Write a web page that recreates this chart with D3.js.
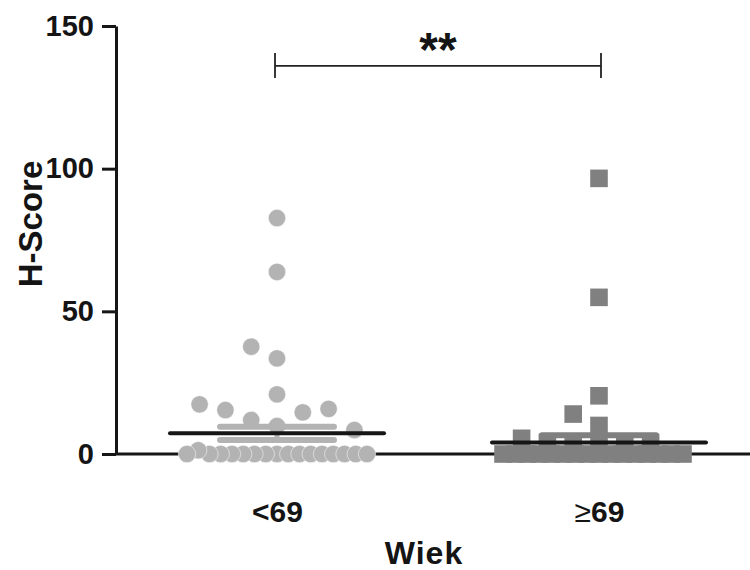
<!DOCTYPE html>
<html><head><meta charset="utf-8">
<script src="https://cdn.jsdelivr.net/npm/d3@7"></script>
<style>
body{margin:0;background:#fff}
svg{display:block}
text{font-family:"Liberation Sans",Arial,sans-serif;font-weight:bold;fill:#141414}
</style>
</head><body>
<svg id="chart" width="750" height="570"></svg>
<script>
// ---- data ----
const categories = ["<69", "\u226569"];
const valuesUnder69 = [82.7, 63.8, 33.5, 37.6, 20.9,
  9.8, 11.9, 14.6, 15.4, 15.8, 17.4, 8.4,
  0, 0, 0, 0, 0, 0, 0, 0, 0, 0, 0, 0, 0, 1.3, 0, 0, 0];
const values69Plus = [96.6, 54.9, 20.4, 10, 14,
  4, 4, 4, 4, 4, 5.5,
  0, 0, 0, 0, 0, 0, 0, 0, 0, 0, 0, 0, 0, 0, 0, 0];
const meanValues = [7.25, 4.0];
const semValues = [2.33, 2.6];
const yTicks = [0, 50, 100, 150];
const sigPair = ["<69", "\u226569"];
const sigLabel = "**";
const sigLevel = 136;
const xTitle = "Wiek";
const yTitle = "H-Score";

// ---- layout ----
const svg = d3.select("#chart");
const y = d3.scaleLinear().domain([0, 150]).range([454, 26]);
const x = d3.scalePoint().domain(categories).range([116, 760]).padding(0.5);
const ink = "#161616";
const colors = ["#b3b3b3", "#808080"];

// Prism-like scatter layout: rows by value bins, spread centre-out within a row
const binEdges = [2.5, 8.2, 18.2, 28.2, 38.2, 48.2, 58.2, 68.2, 78.2, 88.2, 98.2];
const maxStep = 25.8, maxSpread = 180;
function swarm(values, cx) {
  const bins = d3.group(values, v => d3.bisectRight(binEdges, v));
  const out = [];
  for (const [, pts] of bins) {
    const n = pts.length;
    const sp = n > 1 ? Math.min(maxStep, maxSpread / (n - 1)) : 0;
    pts.forEach((v, k) => {
      const slot = k === 0 ? 0 : (k % 2 === 1 ? -(k + 1) / 2 : k / 2);
      out.push({ v, x: cx + slot * sp });
    });
  }
  return out;
}

// axes
const yAxis = svg.append("g").attr("transform", "translate(116,0)")
  .call(d3.axisLeft(y).tickValues(yTicks).tickSize(14).tickSizeOuter(0).tickPadding(8));
yAxis.select(".domain").attr("stroke", ink).attr("stroke-width", 3);
yAxis.selectAll(".tick line").attr("stroke", ink).attr("stroke-width", 3);
yAxis.selectAll(".tick text").attr("font-size", 29).attr("font-family", "Liberation Sans, Arial, sans-serif")
  .attr("font-weight", "bold").attr("fill", ink);

const xAxis = svg.append("g").attr("transform", "translate(0,454)")
  .call(d3.axisBottom(x).tickSize(8).tickSizeOuter(0));
xAxis.select(".domain").attr("stroke", ink).attr("stroke-width", 3).attr("d", "M116,0H750");
xAxis.selectAll(".tick line").attr("stroke", ink).attr("stroke-width", 3);
xAxis.selectAll(".tick text").remove();
xAxis.selectAll(".tick").append("text")
  .attr("y", 68).attr("text-anchor", "middle").attr("font-size", 30)
  .each(function(d) {
    const t = d3.select(this);
    if (d.startsWith("\u2265")) {
      t.append("tspan").attr("font-weight", "normal").text("\u2265");
      t.append("tspan").text(d.slice(1));
    } else t.text(d);
  });

// titles
svg.append("text").attr("x", 424).attr("y", 564).attr("text-anchor", "middle")
  .attr("font-size", 32).attr("letter-spacing", 1).text(xTitle);
svg.append("text").attr("transform", "translate(42,224) rotate(-90)")
  .attr("text-anchor", "middle").attr("font-size", 33).text(yTitle);

// points
const g1 = swarm(valuesUnder69, x(categories[0]));
const g2 = swarm(values69Plus, x(categories[1]));
const r = 8.7, sq = 17.6;
svg.append("g").selectAll("circle").data(g1).join("circle")
  .attr("cx", d => d.x).attr("cy", d => y(d.v)).attr("r", r)
  .attr("fill", colors[0]).attr("stroke", "#fff").attr("stroke-width", 0.5);
svg.append("g").selectAll("rect").data(g2).join("rect")
  .attr("x", d => d.x - sq / 2).attr("y", d => y(d.v) - sq / 2)
  .attr("width", sq).attr("height", sq)
  .attr("fill", colors[1]);

// SEM bars and means
const semHalf = 57, meanHalf = 107;
categories.forEach((c, i) => {
  const cx = x(c), m = meanValues[i], s = semValues[i];
  const g = svg.append("g").attr("stroke", colors[i]).attr("stroke-linecap", "round");
  g.append("line").attr("x1", cx).attr("x2", cx).attr("y1", y(m - s)).attr("y2", y(m + s)).attr("stroke-width", 5);
  [m - s, m + s].forEach(v => g.append("line").attr("x1", cx - semHalf).attr("x2", cx + semHalf)
    .attr("y1", y(v)).attr("y2", y(v)).attr("stroke-width", 6));
  svg.append("line").attr("x1", cx - meanHalf).attr("x2", cx + meanHalf)
    .attr("y1", y(m)).attr("y2", y(m)).attr("stroke", ink).attr("stroke-width", 4)
    .attr("stroke-linecap", "round");
});

// significance bracket
const bx1 = x(sigPair[0]) - 2, bx2 = x(sigPair[1]) + 2, by = y(sigLevel);
const br = svg.append("g").attr("stroke", "#222").attr("stroke-width", 1.8).attr("fill", "none");
br.append("line").attr("x1", bx1).attr("x2", bx2).attr("y1", by).attr("y2", by);
br.append("line").attr("x1", bx1).attr("x2", bx1).attr("y1", by - 13).attr("y2", by + 12);
br.append("line").attr("x1", bx2).attr("x2", bx2).attr("y1", by - 13).attr("y2", by + 12);
svg.append("text").attr("x", (bx1 + bx2) / 2).attr("y", 66).attr("text-anchor", "middle")
  .attr("font-size", 48).text(sigLabel);
</script>
</body></html>
